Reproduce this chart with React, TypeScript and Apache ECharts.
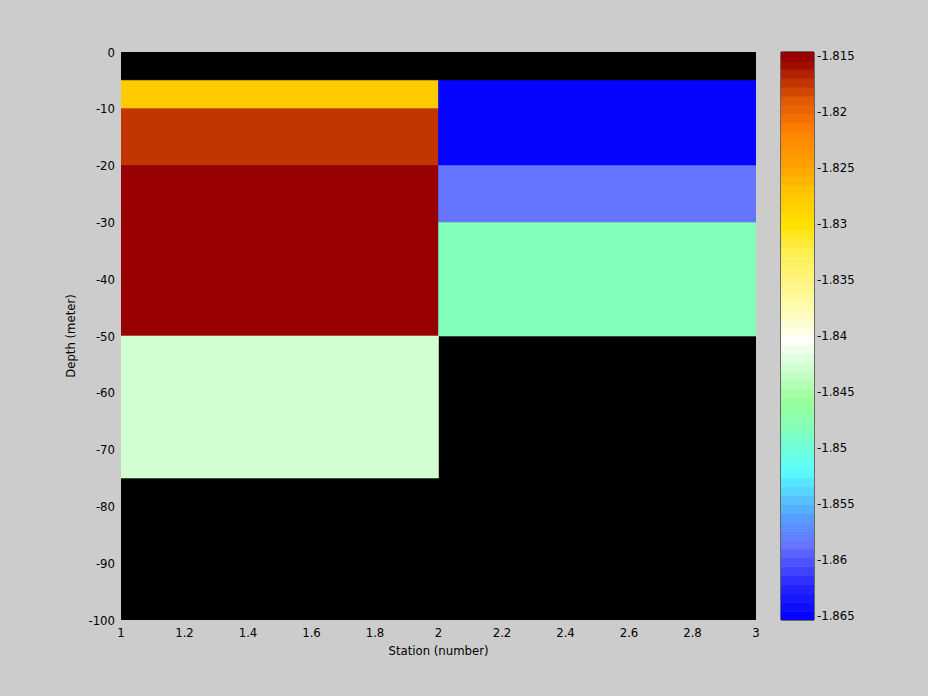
import React, { useEffect, useRef } from "react";
import * as echarts from "echarts";

// ---- data ----
const stations = [1, 2, 3];
const depths = [0, -5, -10, -20, -30, -50, -75, -100];
// value of each cell between depths[i] and depths[i+1], for the cell starting at stations[0] / stations[1]
const station1Values: (number | null)[] = [null, -1.8275, -1.8172, -1.8147, -1.8147, -1.8431, null];
const station2Values: (number | null)[] = [null, -1.8654, -1.8654, -1.8583, -1.848, null, null];
const xTicks = [1, 1.2, 1.4, 1.6, 1.8, 2, 2.2, 2.4, 2.6, 2.8, 3];
const colorbarTicks = [-1.865, -1.86, -1.855, -1.85, -1.845, -1.84, -1.835, -1.83, -1.825, -1.82, -1.815];
const levels = 64;

// colormap key points (t from 0 = min to 1 = max)
const cmapKeys: [number, string][] = [
  [0.0, "#0000FF"],
  [0.053, "#2020FF"],
  [0.132, "#6674FF"],
  [0.176, "#5599FF"],
  [0.22, "#55CCFF"],
  [0.264, "#5AFFFF"],
  [0.335, "#82FFBB"],
  [0.387, "#99FF99"],
  [0.44, "#CCFFCC"],
  [0.493, "#FFFFFA"],
  [0.563, "#FFFAA0"],
  [0.65, "#FFEE50"],
  [0.696, "#FFE000"],
  [0.75, "#FFC800"],
  [0.79, "#FFA800"],
  [0.862, "#FF8000"],
  [0.915, "#E05800"],
  [0.95, "#BF3000"],
  [0.985, "#990000"],
  [1.0, "#990000"],
];

function hexToRgb(h: string) {
  const n = parseInt(h.slice(1), 16);
  return [(n >> 16) & 255, (n >> 8) & 255, n & 255];
}
function interp(t: number) {
  for (let i = 0; i < cmapKeys.length - 1; i++) {
    const [t0, c0] = cmapKeys[i];
    const [t1, c1] = cmapKeys[i + 1];
    if (t >= t0 && t <= t1) {
      const f = t1 === t0 ? 0 : (t - t0) / (t1 - t0);
      const a = hexToRgb(c0);
      const b = hexToRgb(c1);
      const r = a.map((v, k) => Math.round(v + (b[k] - v) * f));
      return `rgb(${r[0]},${r[1]},${r[2]})`;
    }
  }
  return cmapKeys[cmapKeys.length - 1][1];
}
const palette = Array.from({ length: levels }, (_, i) => interp((i + 0.5) / levels));

const allVals = [...station1Values, ...station2Values].filter((v) => v !== null) as number[];
const cMin = Math.min(...allVals);
const cMax = Math.max(...allVals);

function levelOf(v: number) {
  const t = (v - cMin) / (cMax - cMin);
  return Math.max(0, Math.min(levels - 1, Math.floor(t * levels)));
}

const FONT = '"Liberation Sans Narrow", "DejaVu Sans Condensed", "Liberation Sans", Arial, sans-serif';

export default function App() {
  const ref = useRef<HTMLDivElement>(null);
  useEffect(() => {
    document.body.style.margin = "0";
    const chart = echarts.init(ref.current!, undefined, { renderer: "svg" });

    const cells: any[] = [];
    [station1Values, station2Values].forEach((col, ci) => {
      col.forEach((v, ri) => {
        if (v === null) return;
        cells.push([stations[ci], stations[ci + 1], depths[ri], depths[ri + 1], v]);
      });
    });

    const cbData = palette.map((_, i) => [
      0,
      1,
      cMin + (i * (cMax - cMin)) / levels,
      cMin + ((i + 1) * (cMax - cMin)) / levels,
      i,
    ]);

    const fmt = (v: number) => String(parseFloat(Number(v).toFixed(4)));

    chart.setOption({
      animation: false,
      backgroundColor: "#CCCCCC",
      textStyle: { fontFamily: FONT },
      grid: [
        { left: 121, top: 52, width: 635, height: 568, show: true, backgroundColor: "#000000", borderWidth: 0 },
        { left: 781, top: 52, width: 33, height: 568, show: true, backgroundColor: "transparent", borderColor: "#000", borderWidth: 1 },
      ],
      xAxis: [
        {
          type: "value",
          gridIndex: 0,
          min: 1,
          max: 3,
          interval: 0.2,
          axisLine: { show: false },
          axisTick: { show: false },
          splitLine: { show: false },
          axisLabel: {
            color: "#000",
            fontSize: 13,
            fontFamily: FONT,
            margin: 6,
            customValues: xTicks,
            formatter: (v: number) => fmt(v),
          },
          name: "Station (number)",
          nameLocation: "middle",
          nameGap: 24,
          nameTextStyle: { color: "#000", fontSize: 13, fontFamily: FONT },
        },
        {
          type: "value",
          gridIndex: 1,
          min: 0,
          max: 1,
          show: false,
        },
      ],
      yAxis: [
        {
          type: "value",
          gridIndex: 0,
          min: -100,
          max: 0,
          interval: 10,
          axisLine: { show: false },
          axisTick: { show: false },
          splitLine: { show: false },
          axisLabel: { color: "#000", fontSize: 13, fontFamily: FONT, margin: 6 },
          name: "Depth (meter)",
          nameLocation: "middle",
          nameGap: 44,
          nameTextStyle: { color: "#000", fontSize: 13, fontFamily: FONT },
        },
        {
          type: "value",
          gridIndex: 1,
          position: "left",
          min: cMin,
          max: cMax,
          axisLine: { show: false },
          axisTick: { show: true, inside: true, length: 4, lineStyle: { color: "#000" }, customValues: colorbarTicks },
          splitLine: { show: false },
          axisLabel: { show: false, customValues: colorbarTicks },
        },
        {
          type: "value",
          gridIndex: 1,
          position: "right",
          min: cMin,
          max: cMax,
          axisLine: { show: false },
          axisTick: { show: true, inside: true, length: 4, lineStyle: { color: "#000" }, customValues: colorbarTicks },
          splitLine: { show: false },
          axisLabel: {
            show: true,
            color: "#000",
            fontSize: 13,
            fontFamily: FONT,
            margin: 3,
            customValues: colorbarTicks,
            formatter: (v: number) => fmt(v),
          },
        },
      ],
      series: [
        {
          type: "custom",
          xAxisIndex: 0,
          yAxisIndex: 0,
          clip: true,
          encode: { x: [0, 1], y: [2, 3] },
          data: cells,
          renderItem: (params: any, api: any) => {
            const p0 = api.coord([api.value(0), api.value(2)]);
            const p1 = api.coord([api.value(1), api.value(3)]);
            const c = palette[levelOf(api.value(4))];
            return {
              type: "rect",
              shape: { x: p0[0], y: p0[1], width: p1[0] - p0[0], height: p1[1] - p0[1] },
              style: { fill: c, stroke: c, lineWidth: 0.6 },
            };
          },
        },
        {
          type: "custom",
          xAxisIndex: 1,
          yAxisIndex: 1,
          clip: true,
          encode: { x: [0, 1], y: [2, 3] },
          data: cbData,
          renderItem: (params: any, api: any) => {
            const p0 = api.coord([api.value(0), api.value(3)]);
            const p1 = api.coord([api.value(1), api.value(2)]);
            const c = palette[api.value(4)];
            return {
              type: "rect",
              shape: { x: p0[0], y: p0[1], width: p1[0] - p0[0], height: p1[1] - p0[1] },
              style: { fill: c, stroke: c, lineWidth: 0.6 },
            };
          },
        },
      ],
    });
    return () => chart.dispose();
  }, []);
  return <div ref={ref} style={{ width: 928, height: 696, position: "absolute", left: 0, top: 0 }} />;
}
